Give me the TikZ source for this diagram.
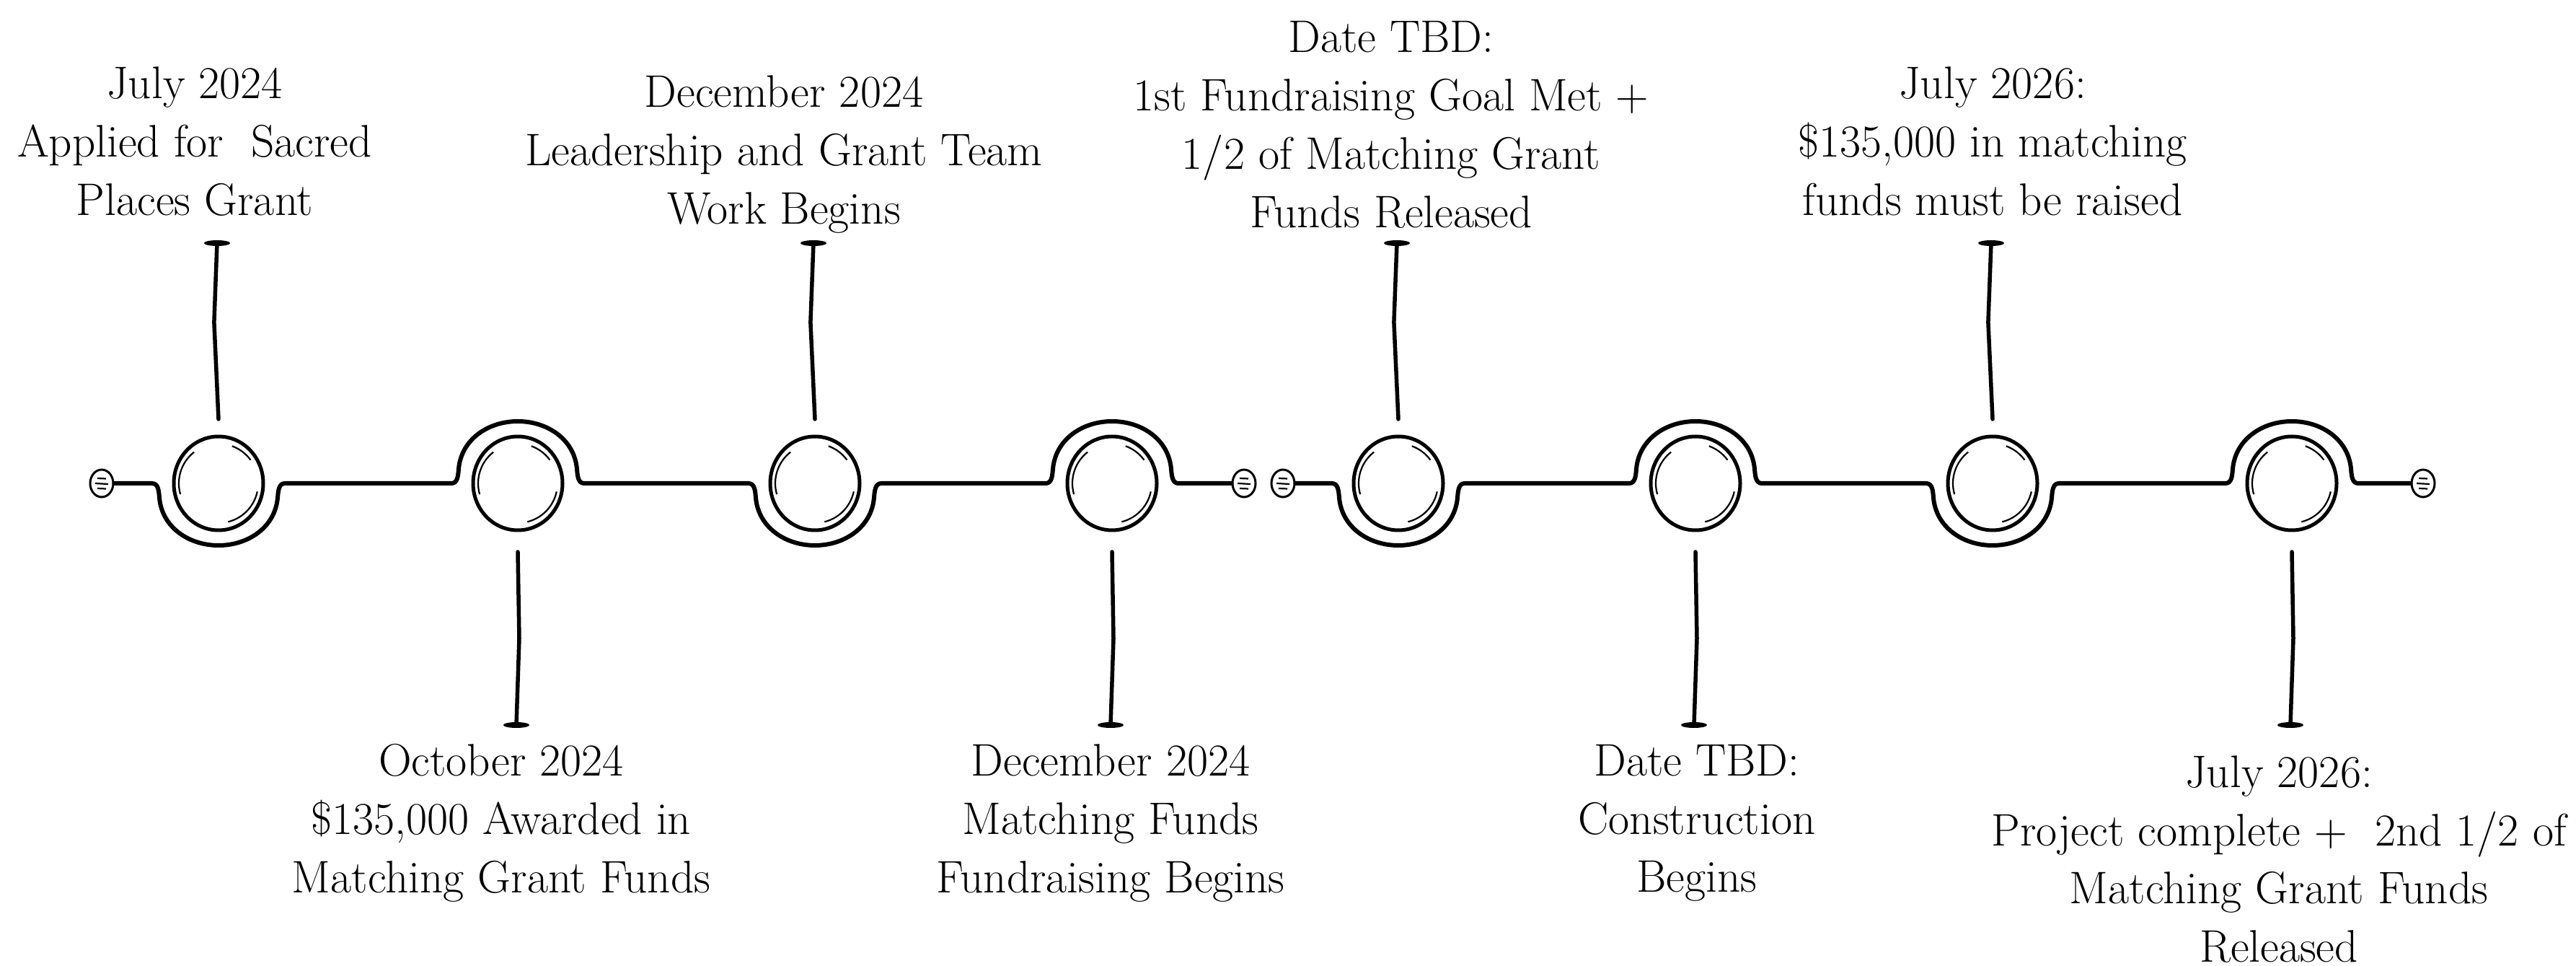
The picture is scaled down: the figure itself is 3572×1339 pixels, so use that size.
\documentclass[tikz,border=0pt]{standalone}
\usepackage{fontspec}
\setmainfont{Latin Modern Roman}
\usetikzlibrary{shapes.geometric,calc}

\tikzset{
	ring/.style={draw, ellipse, line width=0.5mm, minimum width=12.4mm, minimum height=13mm, inner sep=0pt},
	endcap/.style={draw, ellipse, line width=0.3mm, minimum width=3.2mm, minimum height=3.8mm, inner sep=0pt},
	event/.style={align=center, inner sep=0pt, font=\fontsize{18}{23}\selectfont},
	track/.style={line width=0.6mm, line cap=round, line join=round},
	stem/.style={line width=0.55mm, line cap=round},
	gleam/.style={line width=0.22mm},
	dipunder/.style={insert path={to[out=0,in=95] ($(#1)+(-82,20)$) to[out=-85,in=180] ($(#1)+(0,86)$) to[out=0,in=-95] ($(#1)+(82,20)$) to[out=85,in=180] ($(#1)+(92,0)$)}},
	hopover/.style={insert path={to[out=0,in=-95] ($(#1)+(-82,-20)$) to[out=85,in=180] ($(#1)+(0,-86)$) to[out=0,in=95] ($(#1)+(82,-20)$) to[out=-85,in=180] ($(#1)+(92,0)$)}}
}

\begin{document}
\begin{tikzpicture}[x=0.1mm,y=-0.1mm]
	\useasboundingbox (0,0) rectangle (3572,1339);

	%rings
	\node[ring] (c1) at (303,670) {}; %Applied
	\node[ring] (c2) at (718,670) {}; %Awarded
	\node[ring] (c3) at (1130,670) {}; %Leadership
	\node[ring] (c4) at (1542,670) {}; %Fundraising begins
	\node[ring] (c5) at (1939,670) {}; %1st goal
	\node[ring] (c6) at (2351,670) {}; %Construction
	\node[ring] (c7) at (2763,670) {}; %Matching raised
	\node[ring] (c8) at (3178,670) {}; %Project complete
	\foreach \i in {1,...,8}{
		\draw[gleam] (c\i.center) ++(70:5.5mm) arc[start angle=70,end angle=36,radius=5.5mm]; %upper right
		\draw[gleam] (c\i.center) ++(196:5.5mm) arc[start angle=196,end angle=128,radius=5.5mm]; %left
		\draw[gleam] (c\i.center) ++(-12:5.5mm) arc[start angle=-12,end angle=-76,radius=5.5mm]; %lower right
	}

	%end caps
	\node[endcap] (e1) at (141,670) {};
	\node[endcap] (e2) at (1725,670) {};
	\node[endcap] (e3) at (1779,670) {};
	\node[endcap] (e4) at (3360,670) {};
	\foreach \e in {e1,e2,e3,e4}{
		\draw[gleam] ([shift={(-0.6mm,0.7mm)}]\e.center) -- ++(1.2mm,-0.05mm);
		\draw[gleam] ([shift={(-0.9mm,0mm)}]\e.center) -- ++(1.8mm,-0.1mm);
		\draw[gleam] ([shift={(-0.6mm,-0.7mm)}]\e.center) -- ++(1.2mm,-0.05mm);
	}

	%track
	\draw[track] (e1.east) -- ($(c1)+(-92,0)$) [dipunder=c1] -- ($(c2)+(-92,0)$) [hopover=c2] -- ($(c3)+(-92,0)$) [dipunder=c3] -- ($(c4)+(-92,0)$) [hopover=c4] -- (e2.west); %part 1
	\draw[track] (e3.east) -- ($(c5)+(-92,0)$) [dipunder=c5] -- ($(c6)+(-92,0)$) [hopover=c6] -- ($(c7)+(-92,0)$) [dipunder=c7] -- ($(c8)+(-92,0)$) [hopover=c8] -- (e4.west); %part 2

	%stems up
	\foreach \i in {1,3,5,7}{
		\coordinate (a\i) at ($(c\i)+(-2,-333)$);
		\coordinate (b\i) at ($(c\i)+(0,-89)$);
		\draw[stem] (a\i) -- ($(a\i)!0.45!(b\i)+(-5,0)$) -- (b\i);
		\fill (a\i) ellipse[x radius=1.8mm, y radius=0.4mm];
	}
	%stems down
	\foreach \i in {2,4,6,8}{
		\coordinate (a\i) at ($(c\i)+(-2,335)$);
		\coordinate (b\i) at ($(c\i)+(0,95)$);
		\draw[stem] (b\i) -- ($(b\i)!0.5!(a\i)+(3,0)$) -- (a\i);
		\fill (a\i) ellipse[x radius=1.8mm, y radius=0.4mm];
	}

	%labels
	\node[event] (t1) at (270,196) {July 2024\\Applied for\ \ Sacred\\Places Grant};
	\node[event] (t2) at (695,1141) {October 2024\\\$135,000 Awarded in\\Matching Grant Funds};
	\node[event] (t3) at (1087,214) {December 2024\\Leadership and Grant Team\\Work Begins};
	\node[event] (t4) at (1540,1141) {December 2024\\Matching Funds\\Fundraising Begins};
	\node[event] (t5) at (1929,173) {Date TBD:\\1st Fundraising Goal Met +\\1/2 of Matching Grant\\Funds Released};
	\node[event] (t6) at (2353,1141) {Date TBD:\\Construction\\Begins};
	\node[event] (t7) at (2763,196) {July 2026:\\\$135,000 in matching\\funds must be raised};
	\node[event] (t8) at (3160,1191) {July 2026:\\Project complete +\ \ 2nd 1/2 of\\Matching Grant Funds\\Released};
\end{tikzpicture}
\end{document}
